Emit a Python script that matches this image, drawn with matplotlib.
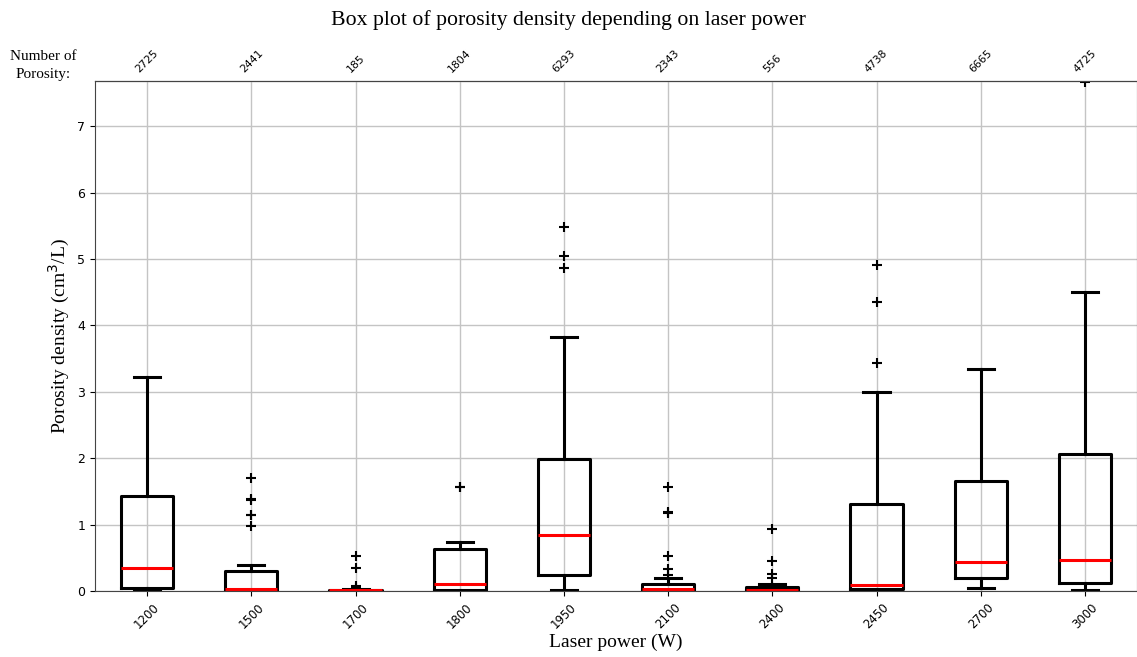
import matplotlib
matplotlib.use("Agg")
import matplotlib.pyplot as plt

# laser power categories and the box statistics
powers = ["1200", "1500", "1700", "1800", "1950", "2100", "2400", "2450", "2700", "3000"]
counts = [2725, 2441, 185, 1804, 6293, 2343, 556, 4738, 6665, 4725]

whislo = [0.01, 0.0, 0.0, 0.0, 0.01, 0.0, 0.0, 0.0, 0.05, 0.01]
q1 = [0.045, 0.0, 0.0, 0.02, 0.245, 0.0, 0.0, 0.025, 0.19, 0.125]
med = [0.35, 0.03, 0.01, 0.11, 0.85, 0.03, 0.02, 0.095, 0.44, 0.47]
q3 = [1.43, 0.30, 0.02, 0.63, 1.98, 0.10, 0.055, 1.31, 1.66, 2.07]
whishi = [3.22, 0.39, 0.03, 0.73, 3.83, 0.20, 0.10, 2.99, 3.35, 4.50]
fliers = [
    [],
    [1.70, 1.38, 1.37, 1.15, 1.14, 0.98],
    [0.52, 0.34, 0.07, 0.05],
    [1.57, 1.56],
    [5.48, 5.05, 4.87],
    [1.56, 1.19, 1.17, 0.53, 0.33, 0.24],
    [0.93, 0.45, 0.26, 0.19],
    [4.91, 4.35, 3.44],
    [],
    [7.66],
]

stats = []
for i in range(len(powers)):
    stats.append({"label": powers[i], "whislo": whislo[i], "q1": q1[i], "med": med[i],
                  "q3": q3[i], "whishi": whishi[i], "fliers": fliers[i]})

fig = plt.figure(figsize=(11.37, 6.57), dpi=100)
ax = fig.add_axes([0.0836, 0.1005, 0.9164, 0.7762])

ax.bxp(stats, widths=0.5,
       boxprops=dict(color="black", linewidth=2.2),
       whiskerprops=dict(color="black", linewidth=2.2),
       capprops=dict(color="black", linewidth=2.2),
       medianprops=dict(color="red", linewidth=2.2),
       flierprops=dict(marker="+", markeredgecolor="black", markersize=7, markeredgewidth=1.5))

ax.set_ylim(0, 7.68)
ax.set_xlim(0.5, 10.5)
ax.grid(True, color="#c4c4c4", linewidth=1)
ax.set_axisbelow(True)
ax.tick_params(axis="x", labelrotation=45, labelsize=8.5)
ax.tick_params(axis="y", labelsize=9)
for sp in ax.spines.values():
    sp.set_color("#444444")

ax.set_xlabel("Laser power (W)", family="Liberation Serif", fontsize=14, labelpad=2)
ax.set_ylabel("Porosity density (cm$^3$/L)", family="Liberation Serif", fontsize=14)

# counts of porosity on top
top = ax.secondary_xaxis("top")
top.set_xticks(range(1, len(powers) + 1))
top.set_xticklabels([str(c) for c in counts], rotation=45, fontsize=7.8)
top.tick_params(length=0, pad=4.5)

fig.text(0.038, 0.9, "Number of\nPorosity:", family="Liberation Serif", fontsize=11,
         ha="center", va="center", linespacing=1.45)
fig.suptitle("Box plot of porosity density depending on laser power",
             family="Liberation Serif", fontsize=15.7, y=0.985)

fig.savefig("out.png", dpi=100)
